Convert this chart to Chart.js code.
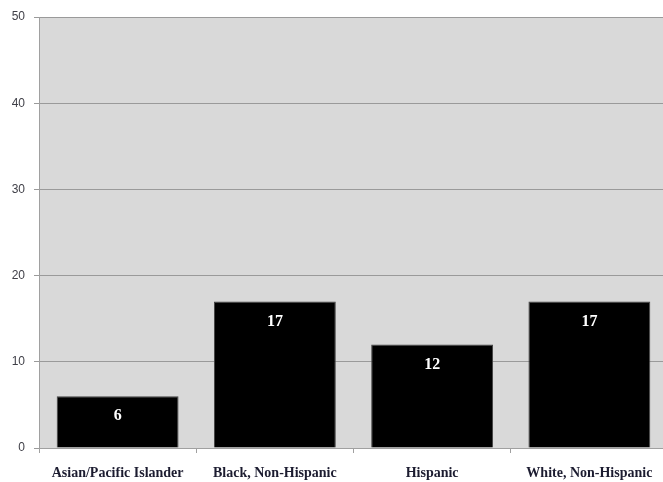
<!DOCTYPE html>
<html>
<head>
<meta charset="utf-8">
<script src="https://cdn.jsdelivr.net/npm/chart.js@4.4.1/dist/chart.umd.min.js"></script>
<style>
html,body{margin:0;padding:0;background:#fff;overflow:hidden;}
#wrap{width:668px;height:482px;position:relative;}
</style>
</head>
<body>
<div id="wrap"><canvas id="c"></canvas></div>
<script>
const categories = ["Asian/Pacific Islander", "Black, Non-Hispanic", "Hispanic", "White, Non-Hispanic"];
const values = [6, 17, 12, 17];
const yTicks = [0, 10, 20, 30, 40, 50];

const bgPlugin = {
  id: 'plotBg',
  beforeDraw(chart) {
    const a = chart.chartArea, ctx = chart.ctx;
    ctx.save();
    ctx.fillStyle = '#d9d9d9';
    ctx.fillRect(a.left, a.top, a.right - a.left, a.bottom - a.top);
    ctx.restore();
  }
};
const labelPlugin = {
  id: 'barLabels',
  afterDatasetsDraw(chart) {
    const ctx = chart.ctx;
    const meta = chart.getDatasetMeta(0);
    ctx.save();
    ctx.fillStyle = '#ffffff';
    ctx.font = 'bold 16px "Liberation Serif"';
    ctx.textAlign = 'center';
    ctx.textBaseline = 'middle';
    meta.data.forEach((bar, i) => {
      ctx.fillText(String(values[i]), bar.x, bar.y + 20);
    });
    ctx.restore();
  }
};

new Chart(document.getElementById('c'), {
  type: 'bar',
  data: {
    labels: categories,
    datasets: [{
      data: values,
      backgroundColor: '#000000',
      borderColor: '#444444',
      borderWidth: 1,
      categoryPercentage: 1,
      barPercentage: 0.775
    }]
  },
  options: {
    responsive: true,
    maintainAspectRatio: false,
    animation: false,
    layout: { padding: { top: 17, right: 0, bottom: 0, left: 0 } },
    plugins: { legend: { display: false }, tooltip: { enabled: false } },
    scales: {
      x: {
        afterFit(s) { s.height = 34; },
        grid: { display: true, drawOnChartArea: false, drawTicks: true, tickLength: 5, color: '#a0a0a0', offset: true },
        border: { color: '#a0a0a0' },
        ticks: { color: '#1c1c30', font: { family: '"Liberation Serif"', size: 14, weight: 'bold' }, padding: 12, maxRotation: 0, autoSkip: false }
      },
      y: {
        min: 0, max: 50,
        afterFit(s) { s.width = 39; },
        afterBuildTicks(s) { s.ticks = yTicks.map(v => ({ value: v })); },
        grid: { color: '#9a9a9a', tickLength: 5, drawTicks: true },
        border: { color: '#a0a0a0' },
        ticks: { color: '#404048', font: { family: '"Liberation Sans"', size: 12 }, padding: 9 }
      }
    }
  },
  plugins: [bgPlugin, labelPlugin]
});
</script>
</body>
</html>
